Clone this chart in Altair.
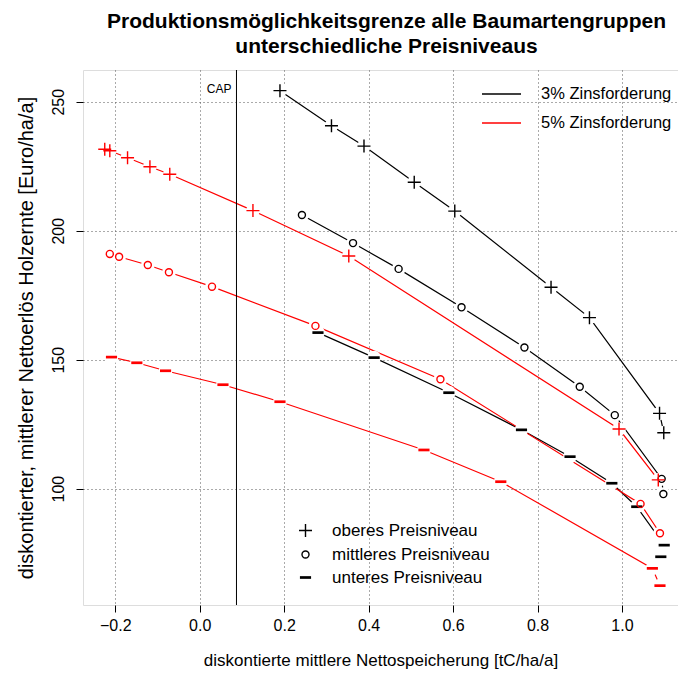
import altair as alt
import pandas as pd

title_lines = ["Produktionsmöglichkeitsgrenze alle Baumartengruppen",
               "unterschiedliche Preisniveaus"]
x_title = "diskontierte mittlere Nettospeicherung [tC/ha/a]"
y_title = "diskontierter, mittlerer Nettoerlös Holzernte [Euro/ha/a]"
zins_levels = ["3% Zinsforderung", "5% Zinsforderung"]
zins_colors = ["black", "red"]
preis_levels = ["oberes Preisniveau", "mittleres Preisniveau", "unteres Preisniveau"]
x_ticks = [-0.2, 0.0, 0.2, 0.4, 0.6, 0.8, 1.0]
y_ticks = [100, 150, 200, 250]
cap_x = [0.087]
cap_label = ["CAP"]

# 3% Zinsforderung
b_plus_x = [0.190, 0.312, 0.389, 0.508, 0.604, 0.832, 0.923, 1.089, 1.099]
b_plus_y = [254.3, 240.7, 232.8, 218.8, 207.6, 178.1, 166.3, 129.2, 121.7]
b_o_x = [0.242, 0.363, 0.471, 0.620, 0.769, 0.900, 0.983, 1.094, 1.098]
b_o_y = [206.1, 195.2, 185.2, 170.3, 154.7, 139.5, 128.5, 103.8, 97.9]
b_dash_x = [0.280, 0.413, 0.590, 0.762, 0.877, 0.976, 1.035, 1.100, 1.092]
b_dash_y = [160.5, 150.8, 137.2, 122.8, 112.4, 102.1, 93.0, 78.1, 73.6]
# 5% Zinsforderung
r_plus_x = [-0.225, -0.213, -0.171, -0.118, -0.071, 0.126, 0.353, 0.993, 1.086]
r_plus_y = [231.6, 231.0, 228.3, 224.8, 221.9, 207.8, 190.2, 123.1, 103.4]
r_o_x = [-0.213, -0.191, -0.123, -0.073, 0.029, 0.274, 0.570, 1.044, 1.090]
r_o_y = [191.0, 189.9, 186.7, 183.9, 178.3, 163.1, 142.4, 94.1, 82.7]
r_dash_x = [-0.209, -0.149, -0.081, 0.055, 0.190, 0.531, 0.713, 1.072, 1.090]
r_dash_y = [151.0, 148.8, 145.7, 140.3, 133.7, 115.0, 102.7, 69.1, 62.4]

series = [
    (zins_levels[0], preis_levels[0], b_plus_x, b_plus_y),
    (zins_levels[0], preis_levels[1], b_o_x, b_o_y),
    (zins_levels[0], preis_levels[2], b_dash_x, b_dash_y),
    (zins_levels[1], preis_levels[0], r_plus_x, r_plus_y),
    (zins_levels[1], preis_levels[1], r_o_x, r_o_y),
    (zins_levels[1], preis_levels[2], r_dash_x, r_dash_y),
]
rows = []
for zins, preis, xs, ys in series:
    for i, (xv, yv) in enumerate(zip(xs, ys)):
        rows.append({"x": xv, "y": yv, "zins": zins, "preis": preis,
                     "series": zins + " " + preis, "i": i})
df = pd.DataFrame(rows)
cap_df = pd.DataFrame({"x": cap_x, "label": cap_label})

FONT = "Liberation Sans"
plus_path = "M-1,0L1,0M0,-1L0,1"
circle_path = "M-0.54,0A0.54,0.54 0 1,0 0.54,0A0.54,0.54 0 1,0 -0.54,0Z"
dash_path = "M-0.75,-0.1L0.75,-0.1L0.75,0.1L-0.75,0.1Z"

xscale = alt.Scale(domain=[-0.2765, 1.1327], nice=False, zero=False)
yscale = alt.Scale(domain=[54.9, 262.3], nice=False, zero=False)
color_scale = alt.Scale(domain=zins_levels, range=zins_colors)
shape_scale = alt.Scale(domain=preis_levels, range=[plus_path, circle_path, dash_path])

x_axis = alt.Axis(values=x_ticks, format=".1f", title=x_title, grid=True,
                  gridDash=[1, 3], gridColor="#555555", gridWidth=1,
                  domain=False, tickSize=7, tickColor="black", tickWidth=1,
                  labelFontSize=16, labelFont=FONT, labelColor="black",
                  labelPadding=5, titleFontSize=17, titleFont=FONT,
                  titleFontWeight="normal", titleColor="black", titlePadding=19,
                  labelFlush=False)
y_axis = alt.Axis(values=y_ticks, format="d", title=y_title, grid=True,
                  gridDash=[1, 3], gridColor="#555555", gridWidth=1,
                  domain=False, tickSize=7, tickColor="black", tickWidth=1,
                  labelFontSize=16, labelFont=FONT, labelColor="black",
                  labelAngle=270, labelAlign="center", labelBaseline="bottom",
                  labelPadding=10, titleFontSize=20, titleFont=FONT,
                  titleFontWeight="normal", titleColor="black", titlePadding=14,
                  labelFlush=False)

x_enc = alt.X("x:Q", scale=xscale, axis=x_axis)
y_enc = alt.Y("y:Q", scale=yscale, axis=y_axis)

color_legend = alt.Legend(title=None, orient="none", legendX=398, legendY=3.5,
                          symbolType="stroke", symbolSize=1521,
                          symbolStrokeWidth=1.3, labelFontSize=16.5, labelFont=FONT,
                          labelColor="black", labelOffset=19, rowPadding=-7.5,
                          padding=0)
shape_legend = alt.Legend(title=None, orient="none", legendX=214, legendY=452,
                          symbolSize=169, symbolStrokeColor="black",
                          symbolFillColor="transparent", symbolStrokeWidth=1.4,
                          labelFontSize=17, labelFont=FONT, labelColor="black",
                          labelOffset=18, rowPadding=5, padding=0)

lines = alt.Chart(df).mark_line(strokeWidth=1.2).encode(
    x=x_enc, y=y_enc,
    color=alt.Color("zins:N", scale=color_scale, legend=color_legend),
    detail="series:N",
    order="i:Q",
)
gaps = alt.Chart(df).mark_point(filled=True, shape="circle", size=190,
                                color="white", opacity=1, strokeWidth=0).encode(
    x=alt.X("x:Q", scale=xscale), y=alt.Y("y:Q", scale=yscale),
)
points = alt.Chart(df).mark_point(filled=False, size=169, strokeWidth=1.4,
                                  opacity=1).encode(
    x=alt.X("x:Q", scale=xscale), y=alt.Y("y:Q", scale=yscale),
    color=alt.Color("zins:N", scale=color_scale, legend=color_legend),
    shape=alt.Shape("preis:N", scale=shape_scale, legend=shape_legend),
)
cap_rule = alt.Chart(cap_df).mark_rule(color="black", strokeWidth=1).encode(
    x=alt.X("x:Q", scale=xscale),
)
cap_text = alt.Chart(cap_df).mark_text(align="right", baseline="middle",
                                       dx=-5, fontSize=12, font=FONT,
                                       color="black").encode(
    x=alt.X("x:Q", scale=xscale), y=alt.value(19), text="label:N",
)

chart = alt.layer(lines, gaps, points, cap_rule, cap_text).properties(
    width=595, height=535,
    title=alt.TitleParams(text=title_lines, fontSize=21, font=FONT,
                          fontWeight="bold", anchor="middle", color="black",
                          lineHeight=25, offset=13, dx=6),
    autosize=alt.AutoSizeParams(type="none"),
    padding={"left": 83, "top": 70, "right": 0, "bottom": 70},
).configure_view(stroke="black", strokeWidth=1).configure(background="white")

chart.save("out.html", embed_options={"renderer": "svg", "actions": False})
